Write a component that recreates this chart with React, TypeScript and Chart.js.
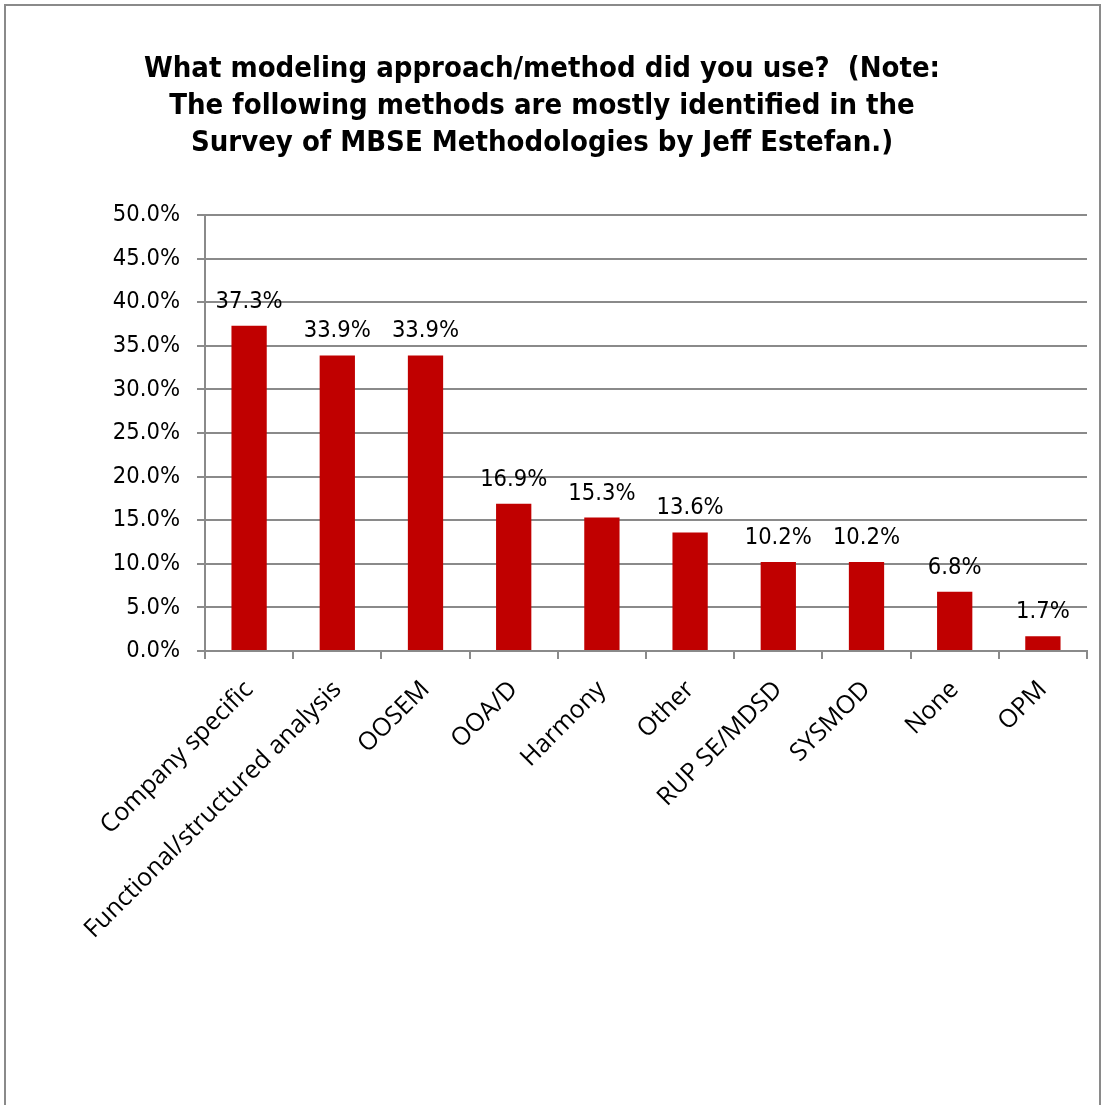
import React, { useEffect, useRef } from "react";
import { Chart, registerables } from "chart.js";

Chart.register(...registerables);

const categories = [
  "Company specific",
  "Functional/structured analysis",
  "OOSEM",
  "OOA/D",
  "Harmony",
  "Other",
  "RUP SE/MDSD",
  "SYSMOD",
  "None",
  "OPM",
];
const shares = [37.3, 33.9, 33.9, 16.9, 15.3, 13.6, 10.2, 10.2, 6.8, 1.7];
const titleLines = [
  "What modeling approach/method did you use?  (Note:",
  "The following methods are mostly identified in the",
  "Survey of MBSE Methodologies by Jeff Estefan.)",
];

const W = 1102;
const H = 1105;
const NUM_FONT = "'DejaVu Sans Condensed', 'DejaVu Sans', sans-serif";
const GRID = "#8a8a8a";

// Title text, drawn centred above the plot
const titlePlugin = {
  id: "titleText",
  afterDraw(chart: Chart) {
    const ctx = chart.ctx;
    ctx.save();
    ctx.fillStyle = "#000";
    ctx.font = `bold 29px ${NUM_FONT}`;
    ctx.textAlign = "center";
    ctx.textBaseline = "alphabetic";
    titleLines.forEach((line, i) => {
      ctx.fillText(line, 542, 77 + i * 37);
    });
    ctx.restore();
  },
};

// Percentage labels above each bar
const valueLabels = {
  id: "valueLabels",
  afterDatasetsDraw(chart: Chart) {
    const ctx = chart.ctx;
    const meta = chart.getDatasetMeta(0);
    ctx.save();
    ctx.fillStyle = "#000";
    ctx.font = `23.5px ${NUM_FONT}`;
    ctx.textAlign = "center";
    ctx.textBaseline = "alphabetic";
    meta.data.forEach((bar: any, i: number) => {
      ctx.fillText(shares[i].toFixed(1) + "%", bar.x, bar.y - 18);
    });
    ctx.restore();
  },
};

export default function App() {
  const ref = useRef<HTMLCanvasElement>(null);

  useEffect(() => {
    if (!ref.current) return;
    const chart = new Chart(ref.current, {
      type: "bar",
      data: {
        labels: categories,
        datasets: [
          {
            data: shares,
            backgroundColor: "#c00000",
            borderWidth: 0,
            barPercentage: 1,
            categoryPercentage: 0.4,
          },
        ],
      },
      options: {
        animation: false,
        responsive: false,
        devicePixelRatio: 1,
        layout: { padding: { top: 215, right: 15, left: 0, bottom: 0 } },
        plugins: {
          legend: { display: false },
          title: { display: false },
          tooltip: { enabled: false },
        },
        scales: {
          x: {
            offset: true,
            grid: {
              offset: true,
              drawOnChartArea: false,
              drawTicks: true,
              tickLength: 8,
              color: GRID,
              lineWidth: 2,
            },
            border: { color: GRID, width: 2 },
            ticks: {
              autoSkip: false,
              maxRotation: 45,
              minRotation: 45,
              padding: 16,
              color: "#000",
              font: { family: "'Open Sans', sans-serif", size: 25 },
            },
            afterFit(scale: any) {
              scale.height = H - 651;
            },
          },
          y: {
            min: 0,
            max: 50,
            grid: {
              color: GRID,
              lineWidth: 2,
              drawTicks: true,
              tickLength: 8,
            },
            border: { color: GRID, width: 2 },
            ticks: {
              stepSize: 5,
              padding: 17,
              color: "#000",
              font: { family: NUM_FONT, size: 23.5 },
              callback: (v: any) => Number(v).toFixed(1) + "%",
            },
            afterFit(scale: any) {
              scale.width = 205;
            },
          },
        },
      },
      plugins: [titlePlugin, valueLabels],
    });
    return () => chart.destroy();
  }, []);

  return (
    <div
      style={{
        position: "absolute",
        left: 0,
        top: 0,
        width: W,
        height: H,
        background: "#fff",
        overflow: "hidden",
      }}
    >
      <canvas ref={ref} width={W} height={H} style={{ display: "block" }} />
      <div
        style={{
          position: "absolute",
          left: 4,
          top: 4,
          width: 1097,
          height: 1130,
          border: "2px solid #8a8a8a",
          boxSizing: "border-box",
          pointerEvents: "none",
        }}
      />
    </div>
  );
}
